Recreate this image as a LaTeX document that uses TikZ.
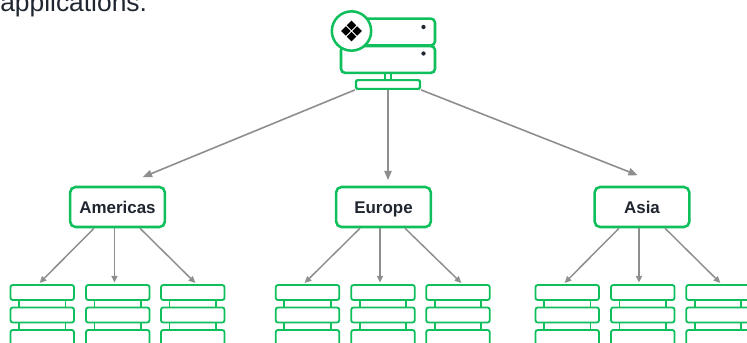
\documentclass[tikz,border=0pt]{standalone}
\usepackage{fontspec}
\setmainfont{Liberation Sans}
\usetikzlibrary{arrows.meta}
\definecolor{leaf}{HTML}{0FBF5C}
\definecolor{wire}{HTML}{8E8E8E}
\definecolor{ink}{HTML}{1F2630}
\def\px{0.75pt}
\tikzset{
    unit/.style = {draw=leaf, line width=1.9pt, rounded corners=3pt, fill=white, inner sep=0pt, minimum width=70.5pt, minimum height=20pt},
    region/.style = {draw=leaf, line width=1.9pt, rounded corners=4pt, fill=white, inner sep=0pt, minimum width=71pt, minimum height=30pt, text=ink, text height=9pt, text depth=0pt, font=\fontsize{12.7}{14}\selectfont\bfseries},
    shard/.style = {draw=leaf, line width=1.35pt, rounded corners=1.5pt, fill=white, inner sep=0pt, minimum width=47.5pt, minimum height=11.2pt},
    neck/.style = {draw=leaf, line width=1.35pt, fill=white, inner sep=0pt, minimum width=35pt, minimum height=6.5pt},
    feed/.style = {draw=wire, line width=1.2pt, -{Triangle[length=7pt, width=5.5pt]}},
    twig/.style = {draw=wire, line width=1.1pt, -{Triangle[length=5pt, width=4.5pt]}},
    led/.style = {circle, fill=ink, inner sep=0pt, minimum size=3.2pt},
    tile/.style = {fill=black, rotate=45, inner sep=0pt, minimum size=5pt}
}
\begin{document}
\begin{tikzpicture}[x=0.75pt, y=-0.75pt]
    \clip (0,0) rectangle (747,343);
    \useasboundingbox (0,0) rectangle (747,343);

    \node (intro) [anchor=base west, text=ink, inner sep=0pt, font=\fontsize{19.8}{22}\selectfont] at (0,11) {applications.};

    % server at the top
    \node (stem) [draw=leaf, line width=1.6pt, fill=white, inner sep=0pt, minimum width=4.5pt, minimum height=6pt] at (388,76.5) {};
    \node (upper) [unit] at (388,32) {};
    \node (lower) [unit] at (388,59.5) {};
    \node (base) [draw=leaf, line width=1.6pt, rounded corners=1pt, fill=white, inner sep=0pt, minimum width=48pt, minimum height=6.5pt] at (388,84.5) {};
    \node (ledup) [led] at (423.5,27) {};
    \node (leddown) [led] at (423.5,53.5) {};

    \node (badge) [circle, draw=leaf, line width=1.9pt, fill=white, inner sep=0pt, minimum size=29.5pt] at (351.5,31) {};
    \node (tileN) [tile] at (351.5,25.3) {};
    \node (tileS) [tile] at (351.5,36.7) {};
    \node (tileW) [tile] at (345.8,31) {};
    \node (tileE) [tile] at (357.2,31) {};

    % regions
    \node (americas) [region] at (117.5,207) {Americas};
    \node (europe) [region] at (383.5,207) {Europe};
    \node (asia) [region] at (642,207) {Asia};

    \draw [feed, shorten >=17pt] (base.south west) -- ([xshift=3.2pt]americas.north);
    \draw [feed, shorten >=4.2pt] (base.south) -- (base.south |- europe.north);
    \draw [feed, shorten >=21.5pt] (base.south east) -- ([xshift=16.8pt]asia.north);

    % shards below each region
    \foreach \id/\cx/\reg/\from/\to in {am1/42.25/americas/-23.5/-3.75, am2/117.75/americas/-3/-3.25, am3/192.75/americas/22.5/3.75,
            eu1/307.5/europe/-23.5/-4, eu2/383/europe/-3.5/-3, eu3/458/europe/21.5/4.5,
            as1/567.25/asia/-23/-3.75, as2/642.75/asia/-3/-3.75, as3/718/asia/23/3.5}{
        \node (\id n1) [neck] at (\cx,303.75) {};
        \node (\id n2) [neck] at (\cx,326) {};
        \node (\id a) [shard] at (\cx,292.5) {};
        \node (\id b) [shard] at (\cx,315) {};
        \node (\id c) [shard] at (\cx,337.5) {};
        \draw [twig, shorten >=1.2pt] ([xshift=\from*\px]\reg.south) -- ([xshift=\to*\px]\id a.north);
    }
\end{tikzpicture}
\end{document}
